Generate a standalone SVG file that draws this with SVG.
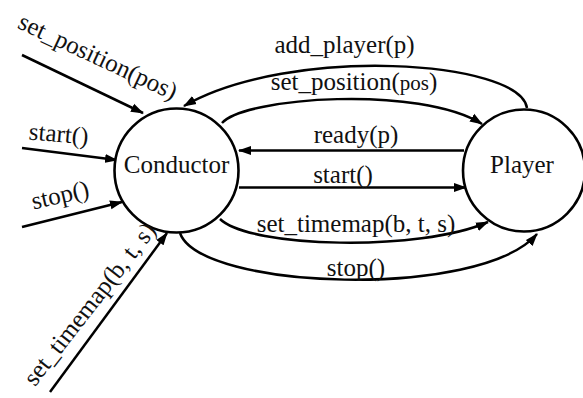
<svg xmlns="http://www.w3.org/2000/svg" width="583" height="398" viewBox="0 0 583 398">
<style>
text{font-family:"Liberation Serif","Times New Roman",serif;font-size:25px;fill:#111;}
.node{fill:#fff;stroke:#000;stroke-width:2.6;}
.edge{fill:none;stroke:#000;stroke-width:2.5;marker-end:url(#arr);}
.lbl{text-anchor:middle;}
</style>
<defs>
<marker id="arr" markerUnits="userSpaceOnUse" markerWidth="14" markerHeight="10" refX="12" refY="5" orient="auto">
<path d="M0,0.5 L13,5 L0,9.5 z" fill="#000"/>
</marker>
</defs>
<g id="connectors">
<path class="edge" d="M527,108 C520,60 290,45 184,106"/>
<path class="edge" d="M222,123 C245,97 420,85 482,124"/>
<path class="edge" d="M464,150.5 L239,150.5"/>
<path class="edge" d="M239,187.5 L466,187.5"/>
<path class="edge" d="M220,219 C250,248 420,252 488,222"/>
<path class="edge" d="M180,233 C200,290 480,300 537,234"/>
<path class="edge" d="M22,55 L143,113"/>
<path class="edge" d="M22,148 L117,160"/>
<path class="edge" d="M22,227 L122,202"/>
<path class="edge" d="M50,392 L167,233"/>
</g>
<g id="conductor">
<circle class="node" cx="176.5" cy="170.5" r="62"/>
<text class="lbl" x="176.5" y="173">Conductor</text>
</g>
<g id="player">
<circle class="node" cx="524" cy="170.5" r="61"/>
<text class="lbl" x="522" y="173">Player</text>
</g>
<g id="labels">
<text class="lbl" x="344.5" y="53">add_player(p)</text>
<text class="lbl" x="354" y="90">set_position(<tspan font-size="21">pos</tspan>)</text>
<text class="lbl" x="356" y="143">ready(p)</text>
<text class="lbl" x="343" y="182.5">start()</text>
<text class="lbl" x="356" y="232">set_timemap(b, t, s)</text>
<text class="lbl" x="356" y="276">stop()</text>
<text class="lbl" transform="translate(94.5,64) rotate(25)">set_position(pos)</text>
<text class="lbl" transform="translate(58,142) rotate(5)">start()</text>
<text class="lbl" transform="translate(62,203) rotate(-13)">stop()</text>
<text class="lbl" transform="translate(96,309) rotate(-52)">set_timemap(b, t, s)</text>
</g>
</svg>
